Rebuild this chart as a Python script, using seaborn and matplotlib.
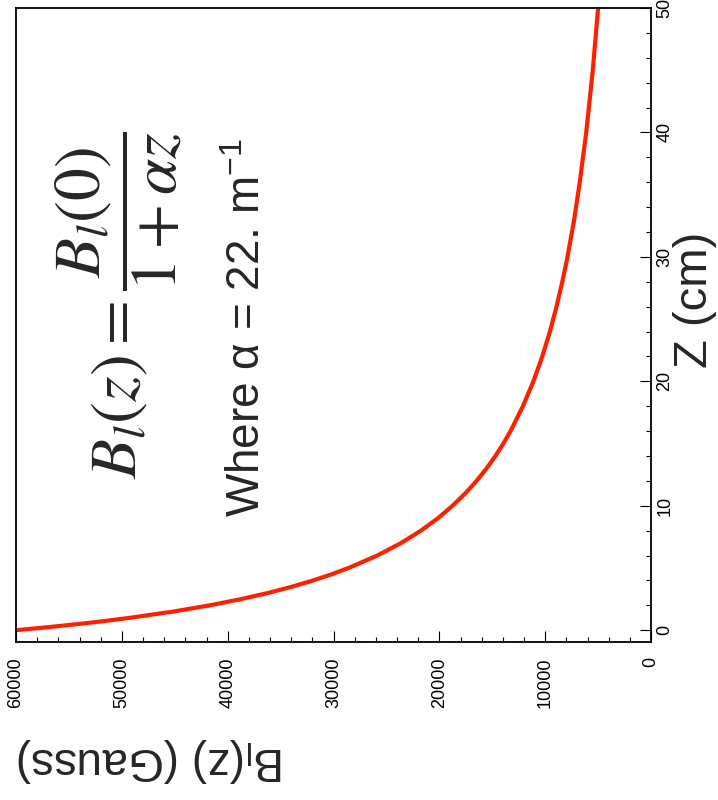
import matplotlib
matplotlib.use("Agg")
import matplotlib.pyplot as plt
import seaborn as sns
import pandas as pd

# values
z_cm = [0, 0.25, 0.5, 0.75, 1, 1.5, 2, 2.5, 3, 3.5, 4, 4.5, 5, 6, 7, 8, 9, 10, 11, 12, 13, 14, 15,
        16, 18, 20, 22, 24, 26, 28, 30, 33, 36, 40, 45, 50]
b_gauss = [60000, 56870, 54050, 51500, 49180, 45110, 41670, 38710, 36140, 33900, 31910, 30150,
           28570, 25860, 23620, 21740, 20130, 18750, 17540, 16480, 15540, 14700, 13950,
           13270, 12100, 11110, 10270, 9550, 8930, 8380, 7890, 7260, 6730, 6120, 5500, 5000]
b_ticks = [0, 10000, 20000, 30000, 40000, 50000, 60000]
z_ticks = [0, 10, 20, 30, 40, 50]

sns.set_theme(style="white")
rc = {'font.family': ['Liberation Sans', 'DejaVu Sans'],
      'mathtext.fontset': 'custom',
      'mathtext.rm': 'Liberation Sans',
      'mathtext.it': 'Liberation Sans:italic',
      'mathtext.bf': 'Liberation Sans:bold',
      'axes.edgecolor': 'black',
      'axes.linewidth': 1.3,
      'xtick.color': 'black',
      'ytick.color': 'black'}
plt.rcParams.update(rc)

Data = pd.DataFrame({'z': z_cm, 'B': b_gauss})

# the whole ROOT canvas is turned a quarter turn: Z runs upward on the right, B runs leftward
fig = plt.figure(figsize=(7.18, 8), dpi=100)
ax = fig.add_axes([16/718, 158/800, 635/718, 634/800])

sns.lineplot(data=Data, x='B', y='z', orient='y', color='#ff2000', lw=3, ax=ax)

ax.set_xlim(60000, 0)
ax.set_ylim(-0.95, 49.85)

ax.set_xticks(b_ticks, [str(t) for t in b_ticks], rotation=90, va='top', ha='center')
ax.set_xticks(range(0, 60001, 2000), minor=True)
ax.yaxis.tick_right()
ax.set_yticks(z_ticks, [str(t) for t in z_ticks], rotation=90, va='center', ha='left')
ax.set_yticks(range(0, 51, 2), minor=True)

ax.tick_params(axis='x', which='both', direction='in', bottom=True, top=False, labelsize=13, pad=11)
ax.tick_params(axis='y', which='both', direction='in', right=True, left=False, labelsize=13, pad=4)
ax.tick_params(which='major', length=8, width=0.8)
ax.tick_params(which='minor', length=3.6, width=0.8)

ax.set_xlabel(r'B$_\mathrm{l}$(z) (Gauss)', fontsize=33, rotation=180, va='center', ha='center')
ax.xaxis.set_label_coords((151 - 16) / 635, (642 - 760) / 634)
ax.yaxis.set_label_position('right')
ax.set_ylabel('Z (cm)', fontsize=34, rotation=90, va='center', ha='center')
ax.yaxis.set_label_coords((695 - 16) / 635, (642 - 300) / 634)

fig.text(118/718, 1 - 305/800, r'$B_l(z) = \dfrac{B_l(0)}{1+\alpha z}$', fontsize=47,
         math_fontfamily='stix', rotation=90, ha='center', va='center')
fig.text(248/718, 1 - 328/800, r'Where α = 22. m$^{\mathrm{-1}}$', fontsize=33,
         rotation=90, ha='center', va='center')

fig.savefig('out.png', dpi=100)
